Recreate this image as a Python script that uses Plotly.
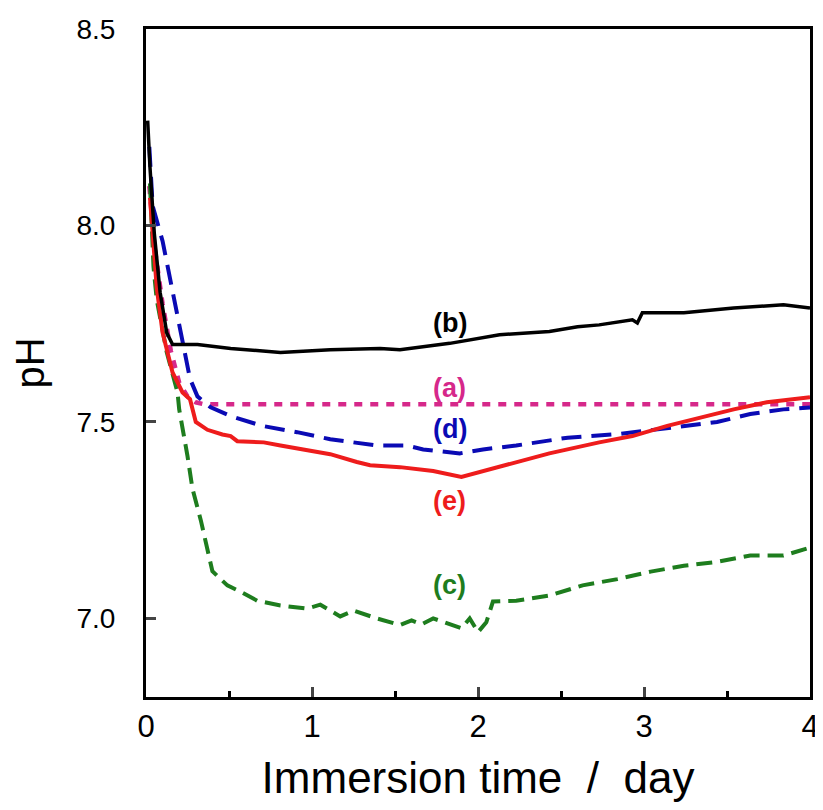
import plotly.graph_objects as go

# (a) magenta dotted
a_x = [0.02, 0.05, 0.10, 0.15, 0.20, 0.25, 0.30, 0.35, 0.5, 1.0, 1.5, 2.0, 2.5, 3.0, 3.5, 4.0]
a_y = [8.10, 7.95, 7.80, 7.68, 7.60, 7.565, 7.55, 7.545, 7.545, 7.545, 7.545, 7.545, 7.545, 7.545, 7.545, 7.545]

# (b) black solid
b_x = [0.01, 0.024, 0.05, 0.085, 0.125, 0.16, 0.31, 0.51, 0.81, 1.11, 1.41, 1.53, 1.83, 2.13, 2.43, 2.60, 2.73, 2.85, 2.93, 2.96, 2.99, 3.24, 3.54, 3.84, 4.0]
b_y = [8.267, 8.148, 7.98, 7.83, 7.727, 7.697, 7.697, 7.687, 7.677, 7.684, 7.687, 7.684, 7.70, 7.722, 7.73, 7.742, 7.747, 7.755, 7.76, 7.752, 7.778, 7.778, 7.79, 7.798, 7.79]

# (c) green dashed
c_x = [0.024, 0.045, 0.065, 0.125, 0.19, 0.20, 0.25, 0.28, 0.33, 0.37, 0.40, 0.49, 0.57, 0.67, 0.81, 0.97, 1.05, 1.17, 1.25, 1.39, 1.53, 1.60, 1.66, 1.73, 1.80, 1.90, 1.95, 2.00, 2.05, 2.09, 2.23, 2.43, 2.63, 2.84, 3.04, 3.24, 3.44, 3.64, 3.84, 4.0]
c_y = [8.107, 7.895, 7.81, 7.677, 7.575, 7.532, 7.413, 7.33, 7.25, 7.17, 7.12, 7.084, 7.068, 7.045, 7.033, 7.025, 7.035, 7.005, 7.02, 7.0, 6.983, 6.995, 6.985, 7.0, 6.99, 6.975, 7.0, 6.965, 6.99, 7.043, 7.045, 7.058, 7.084, 7.10, 7.119, 7.134, 7.144, 7.16, 7.16, 7.18]

# (d) blue dashed
d_x = [0.02, 0.04, 0.10, 0.16, 0.20, 0.235, 0.265, 0.31, 0.39, 0.51, 0.70, 0.91, 1.11, 1.39, 1.57, 1.67, 1.89, 2.03, 2.23, 2.54, 2.84, 3.04, 3.24, 3.44, 3.64, 3.84, 4.0]
d_y = [8.20, 8.05, 7.96, 7.83, 7.75, 7.68, 7.61, 7.565, 7.537, 7.515, 7.49, 7.474, 7.456, 7.44, 7.44, 7.43, 7.42, 7.43, 7.44, 7.46, 7.469, 7.479, 7.49, 7.50, 7.52, 7.532, 7.537]

# (e) red solid
e_x = [0.024, 0.045, 0.065, 0.10, 0.16, 0.22, 0.265, 0.30, 0.37, 0.46, 0.51, 0.55, 0.71, 0.81, 0.95, 1.11, 1.27, 1.35, 1.53, 1.73, 1.90, 2.13, 2.43, 2.73, 2.93, 3.14, 3.34, 3.54, 3.74, 4.0]
e_y = [8.07, 7.96, 7.84, 7.727, 7.626, 7.575, 7.558, 7.50, 7.48, 7.468, 7.464, 7.451, 7.448, 7.44, 7.43, 7.418, 7.398, 7.39, 7.385, 7.375, 7.36, 7.385, 7.42, 7.448, 7.464, 7.49, 7.512, 7.532, 7.55, 7.563]

labels = ["(b)", "(a)", "(d)", "(e)", "(c)"]
label_x = [1.83, 1.83, 1.83, 1.83, 1.83]
label_y = [7.753, 7.587, 7.483, 7.30, 7.084]
label_colors = ["#000000", "#D6288A", "#0A0AB4", "#EE1C1C", "#1E7D1E"]

FONT = "Liberation Sans, Arial"

fig = go.Figure()
fig.add_trace(go.Scatter(x=a_x, y=a_y, mode="lines", line=dict(color="#D6288A", width=4.5, dash="8px,8px")))
fig.add_trace(go.Scatter(x=d_x, y=d_y, mode="lines", line=dict(color="#0A0AB4", width=4, dash="20px,10px")))
fig.add_trace(go.Scatter(x=c_x, y=c_y, mode="lines", line=dict(color="#1E7D1E", width=4, dash="16px,8px")))
fig.add_trace(go.Scatter(x=e_x, y=e_y, mode="lines", line=dict(color="#EE1C1C", width=4)))
fig.add_trace(go.Scatter(x=b_x, y=b_y, mode="lines", line=dict(color="#000000", width=3.5)))

for t, x, y, c in zip(labels, label_x, label_y, label_colors):
    fig.add_annotation(x=x, y=y, text="<b>%s</b>" % t, showarrow=False,
                       font=dict(family=FONT, size=27, color=c))

# page body has an 8px margin, so the figure is shrunk by 8px and margins shifted
fig.update_layout(
    width=815, height=802,
    margin=dict(l=138, r=13, t=21, b=113),
    plot_bgcolor="white", paper_bgcolor="white",
    showlegend=False,
    font=dict(family=FONT, color="black"),
)
fig.update_xaxes(range=[0, 4], tickvals=[0, 1, 2, 3, 4], ticks="inside", ticklen=10, tickwidth=3,
                 showline=True, linewidth=3, linecolor="black", mirror=True, showgrid=False, zeroline=False,
                 automargin=False,
                 minor=dict(tickvals=[0.5, 1.5, 2.5, 3.5], ticks="inside", ticklen=6, tickwidth=3, tickcolor="black"),
                 tickfont=dict(size=31), title=dict(text="Immersion time  /  day", font=dict(size=44), standoff=19))
fig.update_yaxes(range=[6.8, 8.5], tickvals=[7.0, 7.5, 8.0, 8.5], ticktext=["7.0", "7.5", "8.0", "8.5"],
                 ticks="inside", ticklen=10, tickwidth=3, automargin=False, ticklabelstandoff=22,
                 showline=True, linewidth=3, linecolor="black", mirror=True, showgrid=False, zeroline=False,
                 tickfont=dict(size=28), title=dict(text="pH", font=dict(size=40), standoff=22))

fig.write_html("out.html")
